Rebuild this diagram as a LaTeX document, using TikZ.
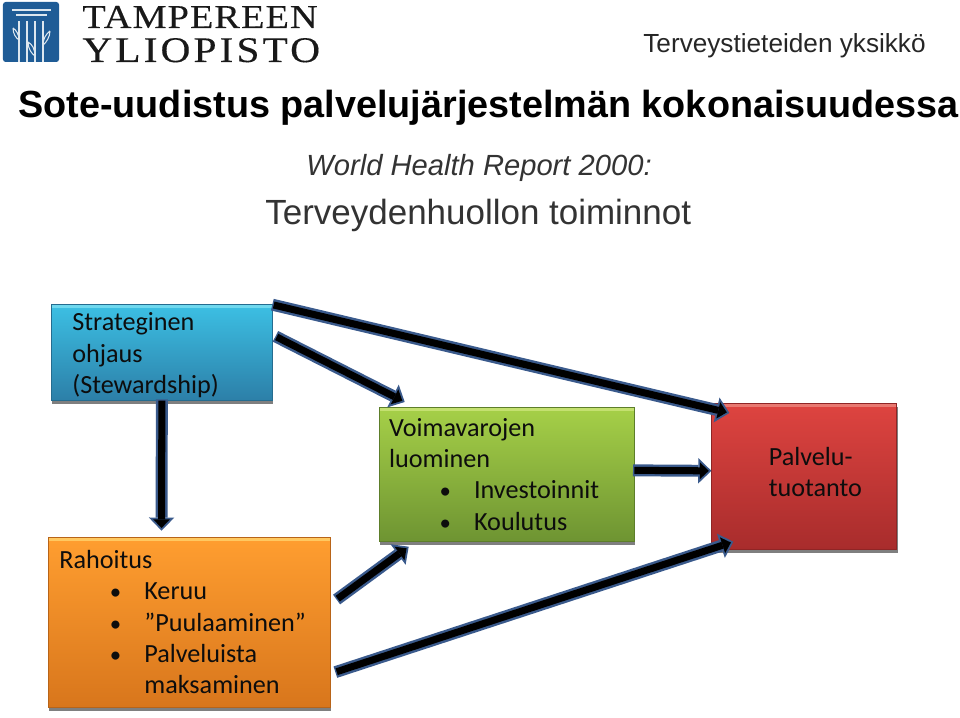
\documentclass[tikz,border=0pt]{standalone}
\usepackage{fontspec}
\setmainfont{Liberation Sans}
\newfontfamily\boxfont{Carlito}
\newfontfamily\logofont[LetterSpace=3,FakeStretch=1.15,FakeBold=0.2]{Liberation Serif}
\newfontfamily\logofontwide[LetterSpace=8.5,FakeStretch=1.15,FakeBold=0.2]{Liberation Serif}
\usetikzlibrary{shapes, arrows.meta, positioning, shadows}

\definecolor{arrowblue}{HTML}{3A5A8C}
\definecolor{logoblue}{HTML}{1F5C96}
\definecolor{bluetop}{HTML}{3CC0E4}
\definecolor{bluebottom}{HTML}{2C7FA8}
\definecolor{bluelight}{HTML}{6FD8EE}
\definecolor{orangetop}{HTML}{FF9E30}
\definecolor{orangebottom}{HTML}{D8761C}
\definecolor{orangelight}{HTML}{FFC860}
\definecolor{greentop}{HTML}{A6D048}
\definecolor{greenbottom}{HTML}{6E9432}
\definecolor{greenlight}{HTML}{C4E070}
\definecolor{redtop}{HTML}{DE4440}
\definecolor{redbottom}{HTML}{A82C2C}
\definecolor{redlight}{HTML}{E87870}

\newcommand{\listline}[1]{\hspace*{1.7cm}\llap{{\fontsize{13}{13}\selectfont\textbullet}\hspace{0.46cm}}#1}

\tikzset{
    box/.style n args={3}{rectangle, draw=#2!85!black, top color=#1, bottom color=#2, inner ysep=0pt,
        align=left, font=\boxfont\fontsize{14.9}{17.9}\selectfont, text=black!95,
        drop shadow={shadow xshift=0.02cm, shadow yshift=-0.07cm, opacity=0.5, fill=black},
        path picture={\fill[#3] (path picture bounding box.north west) rectangle ([yshift=-0.07cm]path picture bounding box.north east);}},
    bigarrow/.style={line width=4pt, draw=black, shorten >=1.5pt, -{Triangle[length=5pt, width=9.5pt, line width=0pt]},
        preaction={draw=arrowblue, line width=6.8pt, shorten >=0pt, shorten <=-0.8pt, -{Triangle[length=7.5pt, width=14.5pt, line width=0pt]}}},
    headline/.style={anchor=base west, inner sep=0pt}
}

\begin{document}
\begin{tikzpicture}
    \useasboundingbox (0,0) rectangle (19.2,14.34);

    % Logo
    \fill[logoblue, rounded corners=1.5pt] (0.06,14.30) rectangle (1.18,13.10);
    \draw[white!85!logoblue, line width=0.7pt] (0.24,14.14) -- (1.02,14.14);
    \draw[white!85!logoblue, line width=0.7pt] (0.32,14.04) -- (0.94,14.04);
    \foreach \x in {0.38,0.54,0.70,0.86}
        \draw[white!85!logoblue, line width=0.6pt] (\x,13.92) -- (\x,13.10);
    \draw[white!85!logoblue, line width=0.6pt] (0.26,13.78) .. controls (0.26,13.66) and (0.32,13.58) .. (0.38,13.54) .. controls (0.38,13.66) and (0.32,13.74) .. (0.26,13.78);
    \draw[white!85!logoblue, line width=0.6pt] (0.56,13.50) .. controls (0.56,13.36) and (0.64,13.26) .. (0.70,13.22) .. controls (0.70,13.36) and (0.64,13.46) .. (0.56,13.50);
    \draw[white!85!logoblue, line width=0.6pt] (1.00,13.72) .. controls (1.00,13.60) and (0.92,13.48) .. (0.86,13.44) .. controls (0.86,13.56) and (0.92,13.66) .. (1.00,13.72);
    \node (tampere) [headline, text=black!90] at (1.64,13.78) {\logofont\fontsize{19}{19}\selectfont TAMPEREEN};
    \node (yliopisto) [headline, text=black!90] at (1.64,13.10) {\logofontwide\fontsize{20.5}{20.5}\selectfont YLIOPISTO};

    % Titles
    \node (unit) [headline, text=black!85] at (12.86,13.28) {\fontsize{14.9}{18}\selectfont Terveystieteiden yksikkö};
    \node (title) [headline] at (0.36,11.98) {\fontsize{21.5}{25}\selectfont\bfseries Sote-uudistus palvelujärjestelmän kokonaisuudessa};
    \node (report) [headline, text=black!80] at (6.12,10.82) {\fontsize{16.6}{20}\selectfont\itshape World Health Report 2000:};
    \node (functions) [headline, text=black!80] at (5.30,9.84) {\fontsize{19.9}{24}\selectfont Terveydenhuollon toiminnot};

    % Nodes
    \node (strategy) [box={bluetop}{bluebottom}{bluelight}, anchor=north west, minimum height=1.92cm, text width=3.58cm, inner xsep=0.42cm] at (1.02,8.26) {\rule{0pt}{0.48cm}Strateginen\\ohjaus\\(Stewardship)};
    \node (financing) [box={orangetop}{orangebottom}{orangelight}, below=2.72cm of strategy.south west, anchor=north west, xshift=-0.06cm, minimum height=3.40cm, text width=5.2cm, inner xsep=0.22cm] {Rahoitus\\\listline{Keruu}\\\listline{”Puulaaminen”}\\\listline{Palveluista}\\\hspace*{1.7cm}maksaminen};
    \node (resources) [box={greentop}{greenbottom}{greenlight}, below right=2.06cm and 2.12cm of strategy.north east, anchor=north west, minimum height=2.68cm, text width=4.70cm, inner xsep=0.2cm] {Voimavarojen\\luominen\\\listline{Investoinnit}\\\listline{Koulutus}};
    \node (production) [box={redtop}{redbottom}{redlight}, right=1.54cm of resources.north east, anchor=north west, yshift=0.08cm, minimum height=2.92cm, text width=3.70cm, inner xsep=0pt] {\hspace*{1.14cm}Palvelu-\\\hspace*{1.14cm}tuotanto\rule[-0.18cm]{0pt}{0pt}};

    % Edges
    \draw[bigarrow] ([shift={(0.02,-0.02)}]strategy.north east) -- ([shift={(0.36,-0.20)}]production.north west);
    \draw[bigarrow] ([shift={(0.08,-0.66)}]strategy.north east) -- ([shift={(0.52,0.10)}]resources.north west);
    \draw[bigarrow] (strategy.south) -- ([shift={(-0.556,0.12)}]financing.north);
    \draw[bigarrow] ([yshift=0.08cm]resources.east) -- ([yshift=0.11cm]production.west);
    \draw[bigarrow] ([shift={(0.14,-1.24)}]financing.north east) -- ([shift={(0.60,-0.10)}]resources.south west);
    \draw[bigarrow] ([shift={(0.12,-2.70)}]financing.north east) -- ([shift={(0.44,0.16)}]production.south west);
\end{tikzpicture}
\end{document}
